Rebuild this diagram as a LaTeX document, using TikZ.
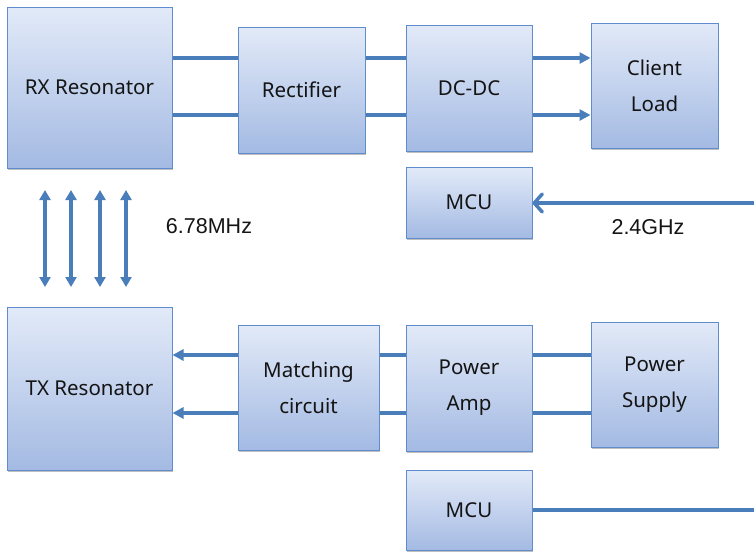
\documentclass[tikz,border=0pt]{standalone}
\usepackage{fontspec}
\setmainfont{Noto Sans}
\newfontfamily\labelfont{Liberation Sans}
\usetikzlibrary{arrows.meta,shadows}
\definecolor{lineblue}{RGB}{74,126,187}
\definecolor{boxborder}{RGB}{95,140,205}
\definecolor{boxtop}{RGB}{226,234,248}
\definecolor{boxbot}{RGB}{164,186,227}
\definecolor{txt}{RGB}{20,20,20}
\tikzset{
  blk/.style={draw=boxborder, line width=1pt, top color=boxtop, bottom color=boxbot,
    rectangle, inner sep=0pt, align=center, text=txt, font=\fontsize{20.5}{36}\selectfont,
    drop shadow={shadow xshift=1pt, shadow yshift=-2pt, fill=black, opacity=0.25}},
  wire/.style={draw=lineblue, line width=3.5pt},
  warrow/.style={wire, -{Triangle[length=11pt,width=11pt]}},
  barrow/.style={wire, {Triangle[length=10pt,width=11pt]}-{Triangle[length=10pt,width=11pt]}},
  rfarrow/.style={wire, -{Straight Barb[length=8pt,width=18pt,line cap=round,line join=round]}},
  lbl/.style={font=\labelfont\fontsize{21.5}{24}\selectfont, text=txt}
}
\begin{document}
\begin{tikzpicture}[x=1pt,y=-1pt]
\useasboundingbox (0,0) rectangle (754,552);
% nodes
\node[blk, minimum width=165pt, minimum height=161pt] (rx) at (89.5,87.5) {RX Resonator};
\node[blk, minimum width=127pt, minimum height=126pt] (rect) at (301.5,90) {Rectifier};
\node[blk, minimum width=126pt, minimum height=126pt] (dcdc) at (469,88) {DC-DC};
\node[blk, minimum width=127pt, minimum height=125pt] (load) at (654.5,85.5) {Client\\Load};
\node[blk, minimum width=126pt, minimum height=71pt] (mcu1) at (469,202.5) {MCU};
\node[blk, minimum width=165pt, minimum height=163pt] (tx) at (89.5,388.5) {TX Resonator};
\node[blk, minimum width=141pt, minimum height=125pt] (match) at (308.5,387.5) {Matching\\circuit};
\node[blk, minimum width=126pt, minimum height=126pt] (pa) at (469,388) {Power\\Amp};
\node[blk, minimum width=127pt, minimum height=125pt] (ps) at (654.5,384.5) {Power\\Supply};
\node[blk, minimum width=126pt, minimum height=80pt] (mcu2) at (469,510) {MCU};
% labels
\node[lbl] (f1) at (209,226) {6.78MHz};
\node[lbl] (f2) at (648,227) {2.4GHz};
% free ends
\coordinate (rfin) at (754,203);
\coordinate (rfout) at (754,510);
\coordinate (c1t) at (45,190); \coordinate (c1b) at (45,287);
\coordinate (c2t) at (71,190); \coordinate (c2b) at (71,287);
\coordinate (c3t) at (100,190); \coordinate (c3b) at (100,287);
\coordinate (c4t) at (126,190); \coordinate (c4b) at (126,287);
% RX chain
\draw[wire] (rx.east |- 0,58) -- (rect.west |- 0,58);
\draw[wire] (rx.east |- 0,115) -- (rect.west |- 0,115);
\draw[wire] (rect.east |- 0,58) -- (dcdc.west |- 0,58);
\draw[wire] (rect.east |- 0,115) -- (dcdc.west |- 0,115);
\draw[warrow] (dcdc.east |- 0,58) -- (load.west |- 0,58);
\draw[warrow] (dcdc.east |- 0,115) -- (load.west |- 0,115);
\draw[rfarrow] (rfin) -- (mcu1.east |- rfin);
% coupling
\draw[barrow] (c1t) -- (c1b);
\draw[barrow] (c2t) -- (c2b);
\draw[barrow] (c3t) -- (c3b);
\draw[barrow] (c4t) -- (c4b);
% TX chain
\draw[warrow] (match.west |- 0,355) -- (tx.east |- 0,355);
\draw[warrow] (match.west |- 0,413) -- (tx.east |- 0,413);
\draw[wire] (pa.west |- 0,355) -- (match.east |- 0,355);
\draw[wire] (pa.west |- 0,413) -- (match.east |- 0,413);
\draw[wire] (ps.west |- 0,355) -- (pa.east |- 0,355);
\draw[wire] (ps.west |- 0,413) -- (pa.east |- 0,413);
\draw[wire] (mcu2.east) -- (rfout);
\end{tikzpicture}
\end{document}
